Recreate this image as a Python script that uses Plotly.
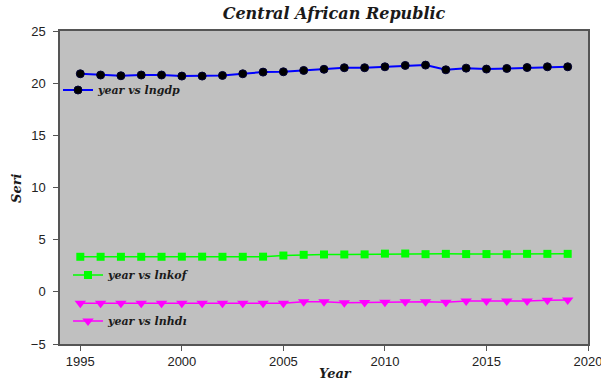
import plotly.graph_objects as go

# Central African Republic: yearly series (natural logs)
years = list(range(1995, 2020))

lngdp = [20.90, 20.78, 20.71, 20.78, 20.78, 20.68, 20.68, 20.74, 20.90, 21.06,
         21.09, 21.22, 21.33, 21.48, 21.48, 21.57, 21.70, 21.73, 21.28, 21.44,
         21.35, 21.41, 21.50, 21.57, 21.57]

lnkof = [3.36, 3.36, 3.36, 3.36, 3.36, 3.37, 3.37, 3.36, 3.36, 3.37,
         3.48, 3.55, 3.58, 3.58, 3.59, 3.66, 3.67, 3.61, 3.64, 3.62,
         3.62, 3.60, 3.64, 3.64, 3.64]

lnhdi = [-1.10, -1.10, -1.10, -1.10, -1.10, -1.10, -1.10, -1.10, -1.10, -1.10,
         -1.09, -0.95, -0.95, -1.05, -1.03, -1.00, -0.94, -0.94, -1.00, -0.88,
         -0.88, -0.88, -0.88, -0.80, -0.78]

series_names = ["year vs lngdp", "year vs lnkof", "year vs lnhdı"]

x_ticks = [1995, 2000, 2005, 2010, 2015, 2020]
y_ticks = [-5, 0, 5, 10, 15, 20, 25]

W, H = 601, 390
M_L, M_R, M_T, M_B = 60, 13, 31, 46
PW, PH = W - M_L - M_R, H - M_T - M_B

serif = "DejaVu Serif, Liberation Serif, serif"
sans = "Liberation Sans, Arial, sans-serif"
ink = "#1a1a1a"
legend_font = dict(family=serif, size=11, color=ink, weight="bold", style="italic")
axis_title_font = dict(family=serif, size=13, color=ink, weight="bold", style="italic")


def paper_x(px):
    return (px - M_L) / PW


def paper_y(py):
    return (H - M_B - py) / PH


fig = go.Figure()

fig.add_trace(go.Scatter(
    x=years, y=lngdp, name=series_names[0], mode="lines+markers",
    line=dict(color="#0000ff", width=2),
    marker=dict(symbol="circle", size=8, color="#000000",
                line=dict(color="#000033", width=1)),
    legend="legend",
))
fig.add_trace(go.Scatter(
    x=years, y=lnkof, name=series_names[1], mode="lines+markers",
    line=dict(color="#00ff00", width=1.5),
    marker=dict(symbol="square", size=8, color="#00ff00"),
    legend="legend2",
))
fig.add_trace(go.Scatter(
    x=years, y=lnhdi, name=series_names[2], mode="lines+markers",
    line=dict(color="#ff00ff", width=1.5),
    marker=dict(symbol="triangle-down", size=10, color="#ff00ff"),
    legend="legend3",
))


def legend_at(px, py):
    return dict(
        xref="container", yref="container",
        x=px / W, y=1 - py / H, xanchor="left", yanchor="middle",
        bgcolor="rgba(0,0,0,0)", borderwidth=0, font=legend_font,
        itemwidth=30, tracegroupgap=0,
    )


fig.update_layout(
    width=W, height=H,
    margin=dict(l=M_L, r=M_R, t=M_T, b=M_B, autoexpand=False),
    paper_bgcolor="#ffffff",
    plot_bgcolor="#c0c0c0",
    title=dict(
        text="Central African Republic",
        font=dict(family=serif, size=16, color=ink, weight="bold", style="italic"),
        x=334 / W, xanchor="center", xref="container",
        y=1 - 13 / H, yanchor="middle", yref="container",
    ),
    showlegend=True,
    legend=legend_at(58, 90),
    legend2=legend_at(68, 275),
    legend3=legend_at(68, 321),
    xaxis=dict(
        range=[1994, 2020], tickvals=x_ticks, ticks="outside", ticklen=5,
        tickcolor="#555555", showline=True, linecolor="#555555", linewidth=1.5,
        mirror=True, showgrid=False, zeroline=False, ticklabeloverflow="allow",
        tickfont=dict(family=sans, size=13, color="#222222"),
    ),
    yaxis=dict(
        range=[-5, 25], tickvals=y_ticks, ticks="outside", ticklen=5,
        tickcolor="#555555", showline=True, linecolor="#555555", linewidth=1.5,
        mirror=True, showgrid=False, zeroline=False, ticklabelstandoff=5,
        tickfont=dict(family=sans, size=13, color="#222222"),
    ),
    annotations=[
        dict(text="Year", xref="paper", yref="paper",
             x=paper_x(335), y=paper_y(373), xanchor="center", yanchor="middle",
             showarrow=False, font=axis_title_font),
        dict(text="Seri", xref="paper", yref="paper",
             x=paper_x(16), y=paper_y(188), xanchor="center", yanchor="middle",
             textangle=-90, showarrow=False, font=axis_title_font),
    ],
)

fig.write_html("out.html")
